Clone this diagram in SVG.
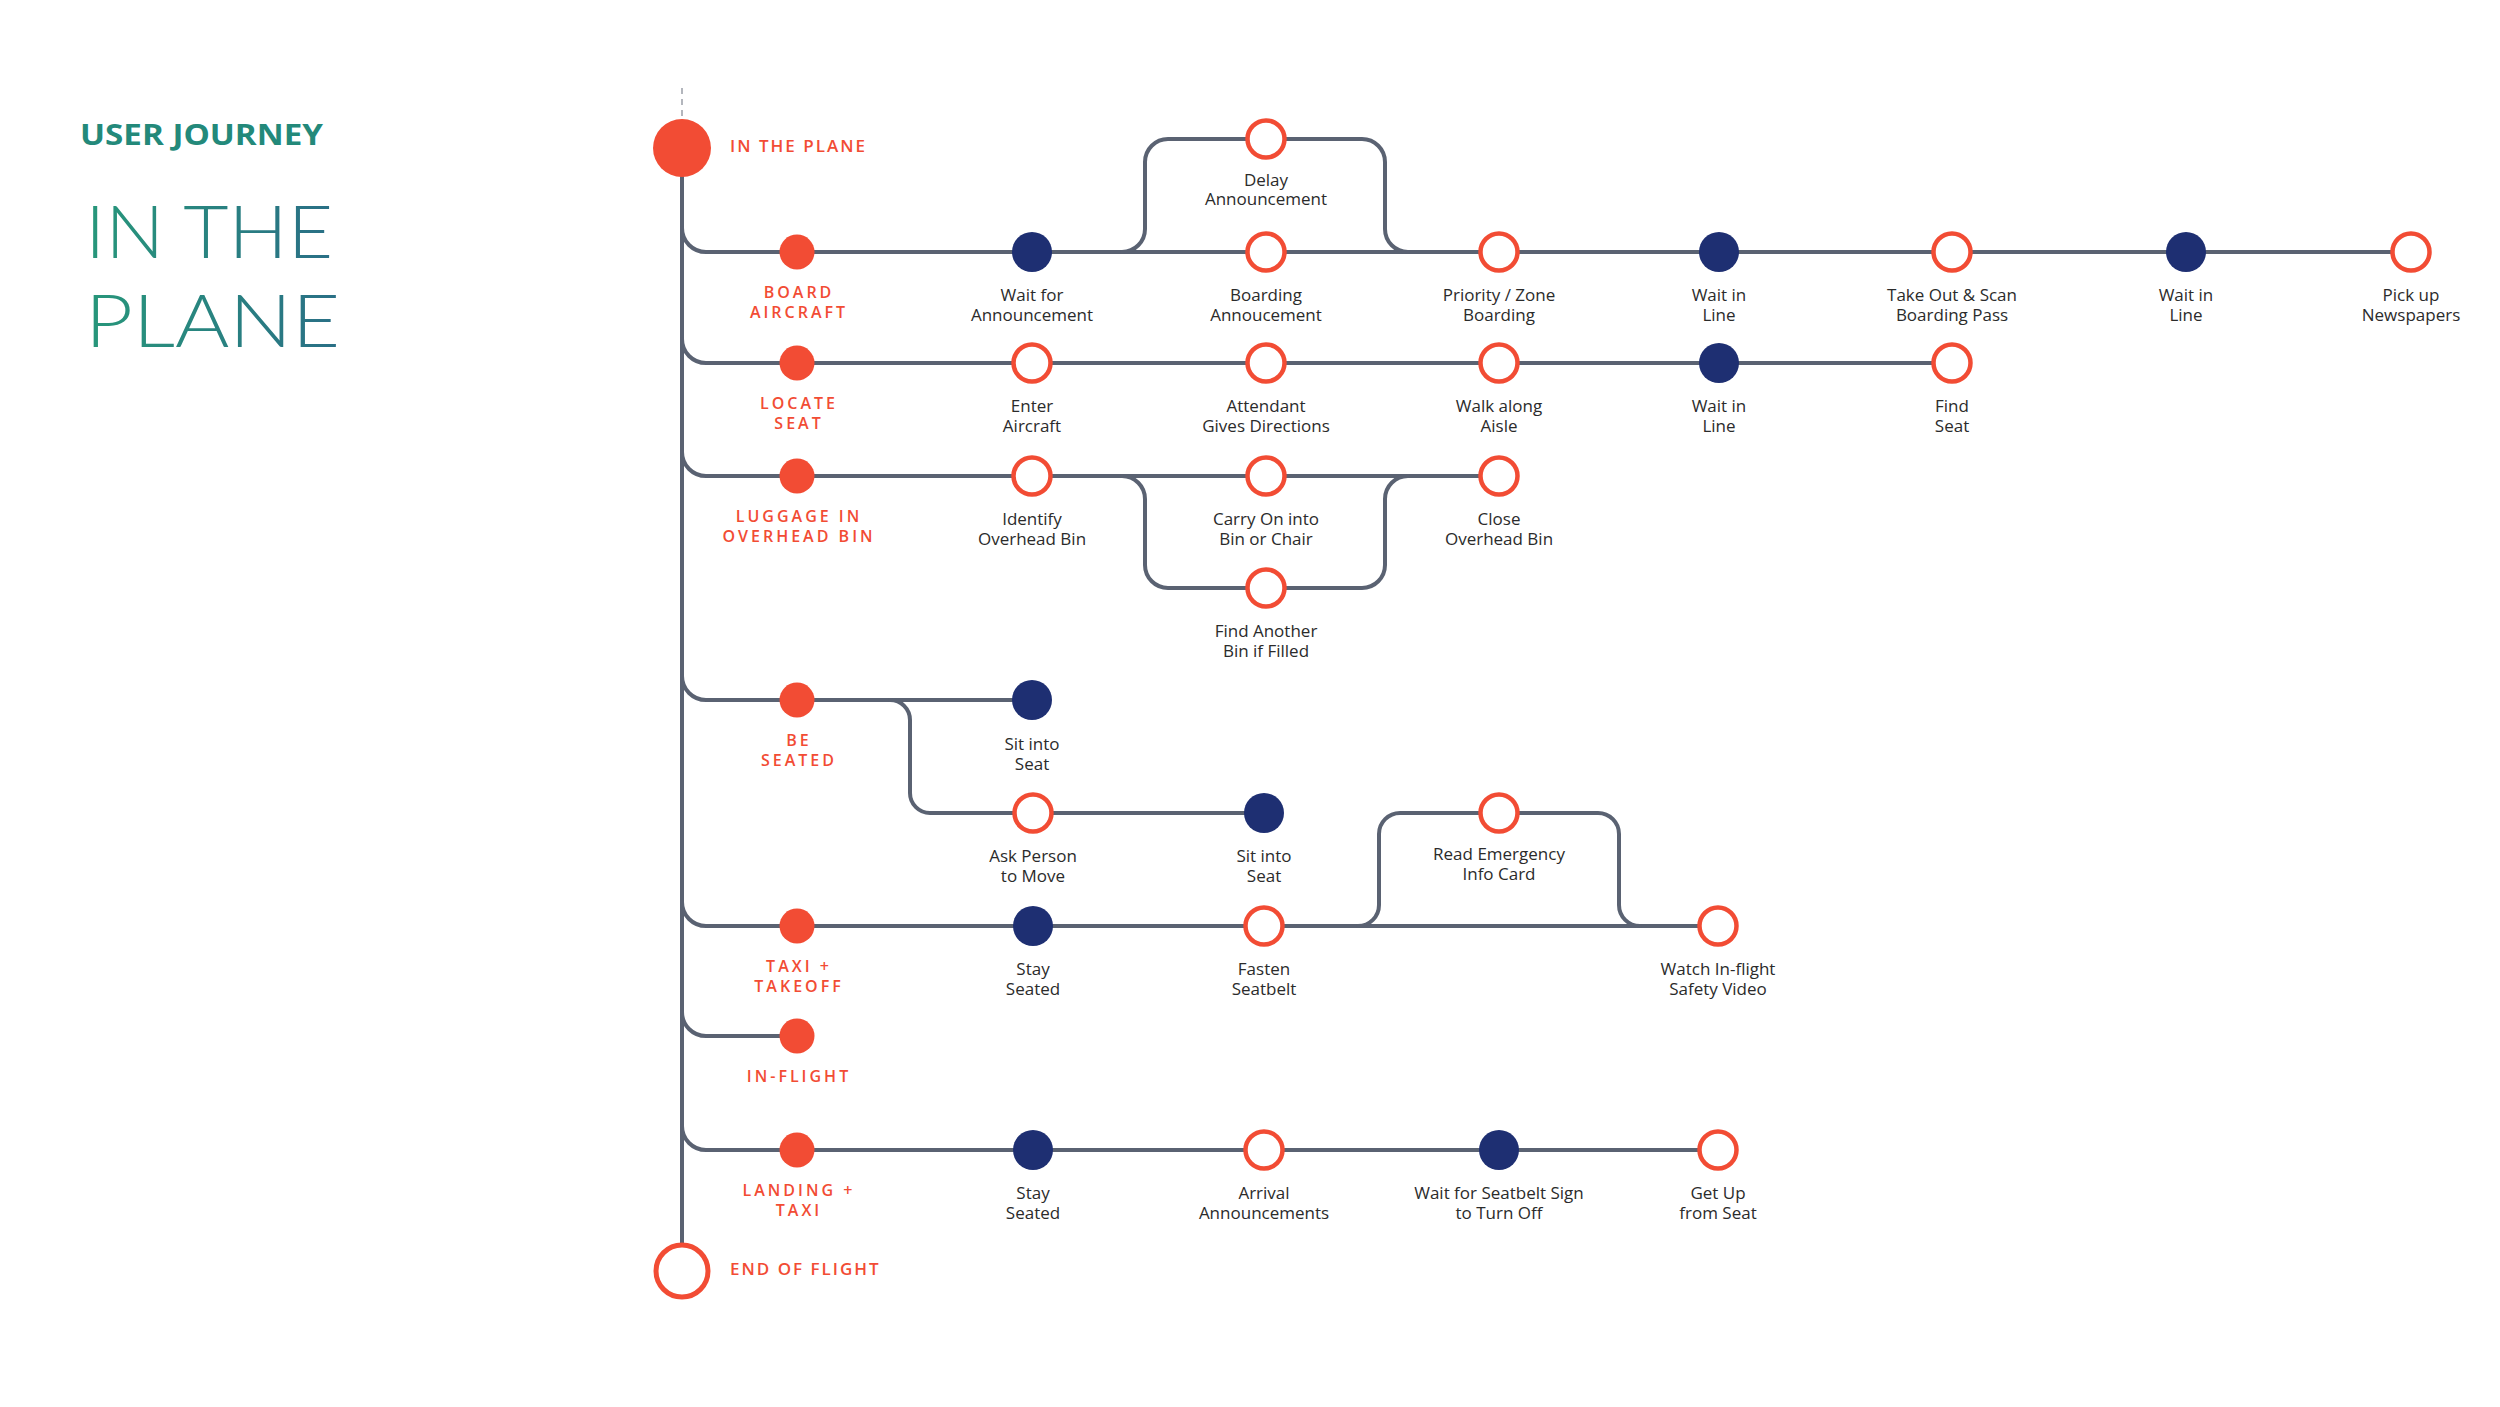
<svg xmlns="http://www.w3.org/2000/svg" width="2500" height="1407" viewBox="0 0 2500 1407">
<defs>
<linearGradient id="tg" x1="0" y1="0" x2="1" y2="0">
<stop offset="0" stop-color="#27977a"/>
<stop offset="1" stop-color="#2a6f86"/>
</linearGradient>
<style>
.ln{fill:none;stroke:#5a6272;stroke-width:4;stroke-linecap:round}
.ph{fill:#f24c34}
.dk{fill:#1e2f72}
.rg{fill:#fff;stroke:#f24c34;stroke-width:4.5}
.pt{font-family:"Open Sans","Liberation Sans",sans-serif;font-size:16px;font-weight:600;fill:#f24c34;letter-spacing:3px;text-anchor:middle}
.nt{font-family:"Open Sans","Liberation Sans",sans-serif;font-size:17px;font-weight:400;fill:#2b2b2b;text-anchor:middle}
.big{font-family:Lato,"Liberation Sans",sans-serif;font-size:72px;font-weight:300;fill:url(#tg)}
.hd{font-family:"Open Sans","Liberation Sans",sans-serif;font-size:28px;font-weight:700;fill:#23897a}
.tl{font-family:"Open Sans","Liberation Sans",sans-serif;font-size:17px;font-weight:600;fill:#f24c34;letter-spacing:2px}
</style>
</defs>
<rect width="2500" height="1407" fill="#fff"/>
<g id="title">
<text class="hd" x="80" y="145" textLength="243" lengthAdjust="spacingAndGlyphs">USER JOURNEY</text>
<text class="big" x="85" y="258" textLength="248" lengthAdjust="spacingAndGlyphs">IN THE</text>
<text class="big" x="85" y="347" textLength="255" lengthAdjust="spacingAndGlyphs">PLANE</text>
</g>
<g id="connectors">
<line x1="682" y1="88" x2="682" y2="118" stroke="#9a9fa8" stroke-width="1.5" stroke-dasharray="6,5"/>
<path class="ln" d="M682,177 V1243"/>
<path class="ln" d="M682,228 A24,24 0 0 0 706,252 H2411"/>
<path class="ln" d="M682,339 A24,24 0 0 0 706,363 H1952"/>
<path class="ln" d="M682,452 A24,24 0 0 0 706,476 H1499"/>
<path class="ln" d="M682,676 A24,24 0 0 0 706,700 H1032"/>
<path class="ln" d="M682,902 A24,24 0 0 0 706,926 H1718"/>
<path class="ln" d="M682,1012 A24,24 0 0 0 706,1036 H797"/>
<path class="ln" d="M682,1126 A24,24 0 0 0 706,1150 H1718"/>
<path class="ln" d="M1122,252 A23,23 0 0 0 1145,229 V162 A23,23 0 0 1 1168,139 H1362 A23,23 0 0 1 1385,162 V229 A23,23 0 0 0 1408,252"/>
<path class="ln" d="M1122,476 A23,23 0 0 1 1145,499 V565 A23,23 0 0 0 1168,588 H1362 A23,23 0 0 0 1385,565 V499 A23,23 0 0 1 1408,476"/>
<path class="ln" d="M890,700 A20,20 0 0 1 910,720 V793 A20,20 0 0 0 930,813 H1264"/>
<path class="ln" d="M1358,926 A21,21 0 0 0 1379,905 V834 A21,21 0 0 1 1400,813 H1598 A21,21 0 0 1 1619,834 V905 A21,21 0 0 0 1640,926"/>
</g>
<g id="start"><circle cx="682" cy="148" r="29" class="ph"/><text class="tl" x="730" y="152">IN THE PLANE</text></g>
<g id="end"><circle cx="682" cy="1271" r="26" fill="#fff" stroke="#f24c34" stroke-width="5"/><text class="tl" x="730" y="1275">END OF FLIGHT</text></g>

<g id="board-aircraft"><circle cx="797" cy="252" r="17.5" class="ph"/><text class="pt" x="799" y="298">BOARD</text><text class="pt" x="799" y="318">AIRCRAFT</text></g>
<g id="wait-announcement"><circle cx="1032" cy="252" r="20" class="dk"/><text class="nt" x="1032" y="301">Wait for</text><text class="nt" x="1032" y="321">Announcement</text></g>
<g id="delay-announcement"><circle cx="1266" cy="139" r="18.5" class="rg"/><text class="nt" x="1266" y="186">Delay</text><text class="nt" x="1266" y="205">Announcement</text></g>
<g id="boarding-annoucement"><circle cx="1266" cy="252" r="18.5" class="rg"/><text class="nt" x="1266" y="301">Boarding</text><text class="nt" x="1266" y="321">Annoucement</text></g>
<g id="priority-boarding"><circle cx="1499" cy="252" r="18.5" class="rg"/><text class="nt" x="1499" y="301">Priority / Zone</text><text class="nt" x="1499" y="321">Boarding</text></g>
<g id="wait-line-1"><circle cx="1719" cy="252" r="20" class="dk"/><text class="nt" x="1719" y="301">Wait in</text><text class="nt" x="1719" y="321">Line</text></g>
<g id="scan-pass"><circle cx="1952" cy="252" r="18.5" class="rg"/><text class="nt" x="1952" y="301">Take Out &amp; Scan</text><text class="nt" x="1952" y="321">Boarding Pass</text></g>
<g id="wait-line-2"><circle cx="2186" cy="252" r="20" class="dk"/><text class="nt" x="2186" y="301">Wait in</text><text class="nt" x="2186" y="321">Line</text></g>
<g id="newspapers"><circle cx="2411" cy="252" r="18.5" class="rg"/><text class="nt" x="2411" y="301">Pick up</text><text class="nt" x="2411" y="321">Newspapers</text></g>

<g id="locate-seat"><circle cx="797" cy="363" r="17.5" class="ph"/><text class="pt" x="799" y="409">LOCATE</text><text class="pt" x="799" y="429">SEAT</text></g>
<g id="enter-aircraft"><circle cx="1032" cy="363" r="18.5" class="rg"/><text class="nt" x="1032" y="412">Enter</text><text class="nt" x="1032" y="432">Aircraft</text></g>
<g id="attendant"><circle cx="1266" cy="363" r="18.5" class="rg"/><text class="nt" x="1266" y="412">Attendant</text><text class="nt" x="1266" y="432">Gives Directions</text></g>
<g id="walk-aisle"><circle cx="1499" cy="363" r="18.5" class="rg"/><text class="nt" x="1499" y="412">Walk along</text><text class="nt" x="1499" y="432">Aisle</text></g>
<g id="wait-line-3"><circle cx="1719" cy="363" r="20" class="dk"/><text class="nt" x="1719" y="412">Wait in</text><text class="nt" x="1719" y="432">Line</text></g>
<g id="find-seat"><circle cx="1952" cy="363" r="18.5" class="rg"/><text class="nt" x="1952" y="412">Find</text><text class="nt" x="1952" y="432">Seat</text></g>

<g id="luggage"><circle cx="797" cy="476" r="17.5" class="ph"/><text class="pt" x="799" y="522">LUGGAGE IN</text><text class="pt" x="799" y="542">OVERHEAD BIN</text></g>
<g id="identify-bin"><circle cx="1032" cy="476" r="18.5" class="rg"/><text class="nt" x="1032" y="525">Identify</text><text class="nt" x="1032" y="545">Overhead Bin</text></g>
<g id="carry-on"><circle cx="1266" cy="476" r="18.5" class="rg"/><text class="nt" x="1266" y="525">Carry On into</text><text class="nt" x="1266" y="545">Bin or Chair</text></g>
<g id="find-another-bin"><circle cx="1266" cy="588" r="18.5" class="rg"/><text class="nt" x="1266" y="637">Find Another</text><text class="nt" x="1266" y="657">Bin if Filled</text></g>
<g id="close-bin"><circle cx="1499" cy="476" r="18.5" class="rg"/><text class="nt" x="1499" y="525">Close</text><text class="nt" x="1499" y="545">Overhead Bin</text></g>

<g id="be-seated"><circle cx="797" cy="700" r="17.5" class="ph"/><text class="pt" x="799" y="746">BE</text><text class="pt" x="799" y="766">SEATED</text></g>
<g id="sit-seat-1"><circle cx="1032" cy="700" r="20" class="dk"/><text class="nt" x="1032" y="750">Sit into</text><text class="nt" x="1032" y="770">Seat</text></g>
<g id="ask-person"><circle cx="1033" cy="813" r="18.5" class="rg"/><text class="nt" x="1033" y="862">Ask Person</text><text class="nt" x="1033" y="882">to Move</text></g>
<g id="sit-seat-2"><circle cx="1264" cy="813" r="20" class="dk"/><text class="nt" x="1264" y="862">Sit into</text><text class="nt" x="1264" y="882">Seat</text></g>

<g id="taxi-takeoff"><circle cx="797" cy="926" r="17.5" class="ph"/><text class="pt" x="799" y="972">TAXI +</text><text class="pt" x="799" y="992">TAKEOFF</text></g>
<g id="stay-seated-1"><circle cx="1033" cy="926" r="20" class="dk"/><text class="nt" x="1033" y="975">Stay</text><text class="nt" x="1033" y="995">Seated</text></g>
<g id="fasten-seatbelt"><circle cx="1264" cy="926" r="18.5" class="rg"/><text class="nt" x="1264" y="975">Fasten</text><text class="nt" x="1264" y="995">Seatbelt</text></g>
<g id="read-card"><circle cx="1499" cy="813" r="18.5" class="rg"/><text class="nt" x="1499" y="860">Read Emergency</text><text class="nt" x="1499" y="880">Info Card</text></g>
<g id="safety-video"><circle cx="1718" cy="926" r="18.5" class="rg"/><text class="nt" x="1718" y="975">Watch In-flight</text><text class="nt" x="1718" y="995">Safety Video</text></g>

<g id="in-flight"><circle cx="797" cy="1036" r="17.5" class="ph"/><text class="pt" x="799" y="1082">IN-FLIGHT</text></g>

<g id="landing-taxi"><circle cx="797" cy="1150" r="17.5" class="ph"/><text class="pt" x="799" y="1196">LANDING +</text><text class="pt" x="799" y="1216">TAXI</text></g>
<g id="stay-seated-2"><circle cx="1033" cy="1150" r="20" class="dk"/><text class="nt" x="1033" y="1199">Stay</text><text class="nt" x="1033" y="1219">Seated</text></g>
<g id="arrival"><circle cx="1264" cy="1150" r="18.5" class="rg"/><text class="nt" x="1264" y="1199">Arrival</text><text class="nt" x="1264" y="1219">Announcements</text></g>
<g id="wait-seatbelt"><circle cx="1499" cy="1150" r="20" class="dk"/><text class="nt" x="1499" y="1199">Wait for Seatbelt Sign</text><text class="nt" x="1499" y="1219">to Turn Off</text></g>
<g id="get-up"><circle cx="1718" cy="1150" r="18.5" class="rg"/><text class="nt" x="1718" y="1219">from Seat</text><text class="nt" x="1718" y="1199">Get Up</text></g>
</svg>
